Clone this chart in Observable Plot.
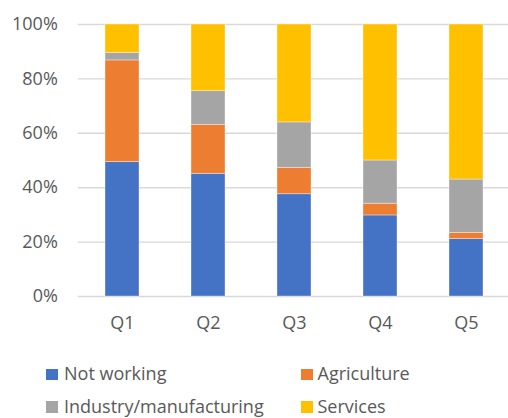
<!DOCTYPE html>
<html><head><meta charset="utf-8">
<script src="https://cdn.jsdelivr.net/npm/d3@7"></script>
<script src="https://cdn.jsdelivr.net/npm/@observablehq/plot@0.6"></script>
<style>
html,body{margin:0;padding:0;background:#fff;overflow:hidden;}
#wrap{position:relative;width:508px;height:418px;overflow:hidden;}
#wrap svg{display:block;}
.sw{position:absolute;width:11.5px;height:11.5px;}
.lt{position:absolute;font-family:"Open Sans";font-size:18px;line-height:18px;color:#595959;white-space:nowrap;}
</style></head><body><div id="wrap"></div>
<script>
const quintiles = ["Q1", "Q2", "Q3", "Q4", "Q5"];
const sectors = ["Not working", "Agriculture", "Industry/manufacturing", "Services"];
const notWorking = [49.4, 45.1, 37.6, 29.8, 21.1];
const agriculture = [37.4, 18.0, 9.7, 4.3, 2.3];
const industry = [2.7, 12.4, 16.7, 15.9, 19.6];
const services = [10.5, 24.5, 36.0, 50.0, 57.0];
const colors = ["#4472C4", "#ED7D31", "#A5A5A5", "#FFC000"];
const yTicks = [0, 20, 40, 60, 80, 100];

const seriesValues = [notWorking, agriculture, industry, services];
const table = [];
sectors.forEach((s, i) => {
  quintiles.forEach((q, j) => table.push({q, sector: s, value: seriesValues[i][j]}));
});

const chart = Plot.plot({
  width: 508,
  height: 350,
  marginLeft: 77.8,
  marginRight: -3.5,
  marginTop: 24,
  marginBottom: 54,
  style: {fontFamily: "Open Sans", fontSize: "18px", color: "#595959", background: "transparent"},
  x: {domain: quintiles, paddingInner: 0.6, paddingOuter: 0.3, label: null},
  y: {domain: [0, 100], label: null},
  color: {domain: sectors, range: colors},
  marks: [
    Plot.gridY(yTicks, {stroke: "#d9d9d9", strokeOpacity: 1, strokeWidth: 1.4}),
    Plot.barY(table, {x: "q", y: "value", fill: "sector", stroke: "#fff", strokeOpacity: 0.45, strokeWidth: 0.8}),
    Plot.axisX({tickSize: 0, tickPadding: 20, fontSize: 18, label: null}),
    Plot.axisY(yTicks, {tickSize: 0, tickPadding: 20.5, tickFormat: d => d + "%", fontSize: 18, label: null})
  ]
});
const wrap = document.getElementById("wrap");
wrap.appendChild(chart);

const legendPos = [
  {sx: 46, sy: 368.8, tx: 64, ty: 364.2},
  {sx: 301, sy: 368.8, tx: 317.5, ty: 364.2},
  {sx: 46, sy: 401.3, tx: 64, ty: 396.7},
  {sx: 301, sy: 401.3, tx: 317.5, ty: 396.7}
];
sectors.forEach((s, i) => {
  const p = legendPos[i];
  const sw = document.createElement("div");
  sw.className = "sw";
  sw.style.left = p.sx + "px";
  sw.style.top = p.sy + "px";
  sw.style.background = colors[i];
  wrap.appendChild(sw);
  const t = document.createElement("div");
  t.className = "lt";
  t.style.left = p.tx + "px";
  t.style.top = p.ty + "px";
  t.textContent = s;
  wrap.appendChild(t);
});
</script></body></html>
